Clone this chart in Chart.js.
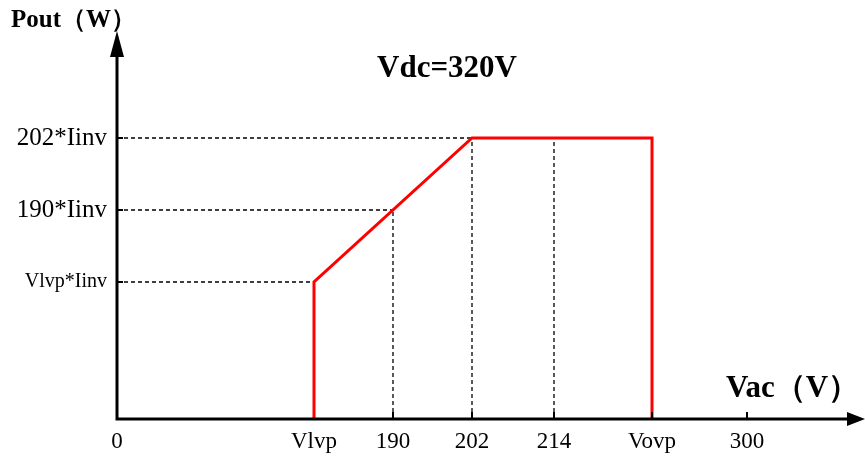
<!DOCTYPE html>
<html lang="en">
<head>
    <meta charset="UTF-8">
    <title>Pout vs Vac</title>
    <script src="https://cdn.jsdelivr.net/npm/chart.js"></script>
    <style>
        body { margin: 0; background: #fff; }
        .wrap { width: 865px; height: 460px; position: relative; }
    </style>
</head>
<body>
    <div class="wrap"><canvas id="chart"></canvas></div>

    <script>
        // schematic axis positions (diagram units)
        const xTickPos = [0, 197, 276, 355, 437, 535, 630];
        const xTickLabels = ['0', 'Vlvp', '190', '202', '214', 'Vovp', '300'];
        const yTickPos = [137, 209, 281];
        const yTickLabels = ['Vlvp*Iinv', '190*Iinv', '202*Iinv'];

        // red power curve
        const curveX = [197, 197, 355, 535, 535];
        const curveY = [0, 137, 281, 281, 0];

        // dashed guide lines: [x1, y1, x2, y2]
        const guideLines = [
            [0, 281, 355, 281],
            [0, 209, 276, 209],
            [0, 137, 197, 137],
            [276, 0, 276, 209],
            [355, 0, 355, 281],
            [437, 0, 437, 281]
        ];

        const xMax = 748;
        const yMax = 389;

        const datasets = [];
        guideLines.forEach(g => {
            datasets.push({
                data: [{x: g[0], y: g[1]}, {x: g[2], y: g[3]}],
                borderColor: '#000',
                borderWidth: 1.3,
                borderDash: [4, 3],
                pointRadius: 0,
                showLine: true,
                order: 2
            });
        });
        datasets.push({
            data: curveX.map((x, i) => ({x: x, y: curveY[i]})),
            borderColor: '#ff0000',
            borderWidth: 3,
            pointRadius: 0,
            showLine: true,
            borderJoinStyle: 'miter',
            order: 1
        });

        // axes with arrows, tick marks and the text labels
        const axesPlugin = {
            id: 'axesPlugin',
            afterDatasetsDraw(chart) {
                const ctx = chart.ctx;
                const xs = chart.scales.x, ys = chart.scales.y;
                const ox = xs.getPixelForValue(0), oy = ys.getPixelForValue(0);
                ctx.save();
                ctx.strokeStyle = '#000';
                ctx.fillStyle = '#000';
                ctx.lineWidth = 3;
                ctx.beginPath();
                ctx.moveTo(ox, oy);
                ctx.lineTo(ox, 50);
                ctx.moveTo(ox - 1.5, oy);
                ctx.lineTo(850, oy);
                ctx.stroke();

                // arrow heads
                ctx.beginPath();
                ctx.moveTo(ox, 31);
                ctx.lineTo(ox - 7, 57);
                ctx.lineTo(ox + 7, 57);
                ctx.closePath();
                ctx.fill();
                ctx.beginPath();
                ctx.moveTo(865, oy);
                ctx.lineTo(847, oy - 7);
                ctx.lineTo(847, oy + 7);
                ctx.closePath();
                ctx.fill();

                // small inward tick marks
                ctx.lineWidth = 2;
                ctx.beginPath();
                xTickPos.slice(2).forEach(v => {
                    const px = xs.getPixelForValue(v);
                    ctx.moveTo(px, oy);
                    ctx.lineTo(px, oy - 7);
                });
                yTickPos.forEach(v => {
                    const py = ys.getPixelForValue(v);
                    ctx.moveTo(ox, py);
                    ctx.lineTo(ox + 6, py);
                });
                ctx.stroke();

                // axis titles
                ctx.textBaseline = 'middle';
                ctx.textAlign = 'left';
                ctx.font = 'bold 25px "Liberation Serif"';
                ctx.fillText('Pout（W）', 11, 21);
                ctx.font = 'bold 31px "Liberation Serif"';
                ctx.fillText('Vdc=320V', 377, 69);
                ctx.fillText('Vac（V）', 726, 389);
                ctx.restore();
            }
        };

        new Chart(document.getElementById('chart'), {
            type: 'scatter',
            data: { datasets: datasets },
            options: {
                responsive: true,
                maintainAspectRatio: false,
                animation: false,
                layout: { padding: { top: 30, right: 0, left: 0, bottom: 0 } },
                plugins: {
                    legend: { display: false },
                    tooltip: { enabled: false }
                },
                scales: {
                    x: {
                        type: 'linear',
                        min: 0,
                        max: xMax,
                        afterFit: s => { s.height = 41; },
                        afterBuildTicks: s => { s.ticks = xTickPos.map(v => ({value: v})); },
                        grid: { display: false, drawTicks: false },
                        border: { display: false },
                        ticks: {
                            color: '#000',
                            padding: 9,
                            maxRotation: 0,
                            autoSkip: false,
                            font: { family: 'Liberation Serif', size: 23 },
                            callback: (v, i) => xTickLabels[i]
                        }
                    },
                    y: {
                        type: 'linear',
                        min: 0,
                        max: yMax,
                        afterFit: s => { s.width = 117; },
                        afterBuildTicks: s => { s.ticks = yTickPos.map(v => ({value: v})); },
                        grid: { display: false, drawTicks: false },
                        border: { display: false },
                        ticks: {
                            color: '#000',
                            padding: 10,
                            autoSkip: false,
                            font: ctx => ({
                                family: 'Liberation Serif',
                                size: ctx.index === 0 ? 20 : 25
                            }),
                            callback: (v, i) => yTickLabels[i]
                        }
                    }
                }
            },
            plugins: [axesPlugin]
        });
    </script>
</body>
</html>
